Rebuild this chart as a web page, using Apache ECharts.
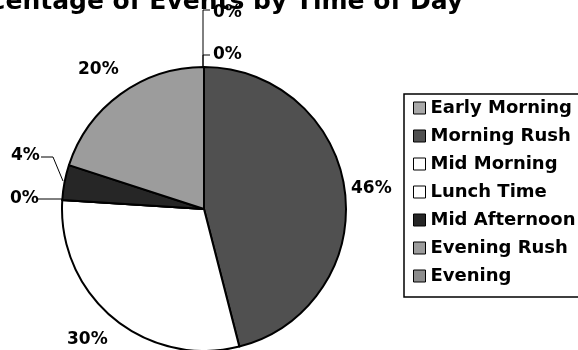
<!DOCTYPE html>
<html><head><meta charset="utf-8">
<script src="https://cdn.jsdelivr.net/npm/echarts@6/dist/echarts.min.js"></script>
<style>html,body{margin:0;padding:0;background:#fff}#c{width:578px;height:350px}</style>
</head><body><div id="c"></div>
<script>
const titleText = 'Percentage of Events by Time of Day';
const categories = ['Early Morning','Morning Rush','Mid Morning','Lunch Time','Mid Afternoon','Evening Rush','Evening'];
const values = [0, 46, 30, 0, 4, 20, 0];
const colors = ['#a9a9a9','#505050','#ffffff','#ffffff','#262626','#9c9c9c','#8c8c8c'];

// label placement (style only)
const labelPos = [
  {x:213, y:55, line:[[203,67],[203,55],[210,55]]},
  {x:351, y:189, line:null},
  {x:67, y:340, line:null},
  {x:10, y:199, line:[[62,199],[38,199]]},
  {x:11, y:156, line:[[63,181],[53,157],[41,157]]},
  {x:78, y:70, line:null},
  {x:213, y:13, line:[[203,67],[203,10],[210,10]]}
];

const FONT = 'DejaVu Sans';
const chart = echarts.init(document.getElementById('c'), null, {renderer:'canvas'});
chart.setOption({
  animation:false,
  backgroundColor:'#fff',
  title:{
    text:titleText, left:-57, top:-10, padding:0,
    textStyle:{fontFamily:FONT, fontWeight:'bold', fontSize:25, color:'#000'}
  },
  legend:{
    orient:'vertical', left:404, top:94,
    data:categories,
    itemWidth:12, itemHeight:12, itemGap:8,
    padding:[4, 40, 11, 9],
    borderColor:'#000', borderWidth:1.5,
    icon:'rect',
    itemStyle:{borderColor:'#000', borderWidth:1},
    textStyle:{fontFamily:FONT, fontWeight:'bold', fontSize:18, color:'#000', lineHeight:20}
  },
  series:[{
    type:'pie',
    center:[204,209], radius:142,
    startAngle:90, clockwise:true,
    avoidLabelOverlap:false,
    stillShowZeroSum:true,
    itemStyle:{borderColor:'#000', borderWidth:2},
    label:{
      show:true, position:'outside',
      formatter:p=>p.value+'%',
      fontFamily:FONT, fontWeight:'bold', fontSize:17, color:'#000'
    },
    labelLine:{show:true, lineStyle:{color:'#000', width:1}},
    labelLayout:function(params){
      const lp = labelPos[params.dataIndex];
      const r = {x:lp.x, y:lp.y, align:'left', verticalAlign:'middle'};
      if (lp.line) r.labelLinePoints = lp.line;
      return r;
    },
    emphasis:{disabled:true},
    data:categories.map((n,i)=>({
      name:n, value:values[i],
      itemStyle:{color:colors[i]},
      labelLine:{show: !!labelPos[i].line}
    }))
  }]
});
</script></body></html>
